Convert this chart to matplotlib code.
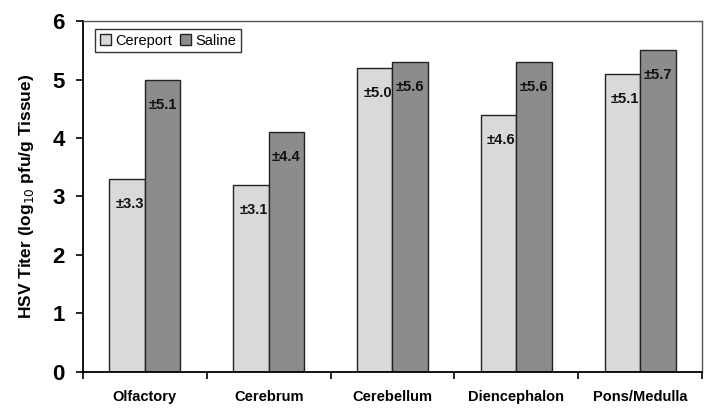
import numpy as np
import matplotlib.pyplot as plt

plt.rcParams['font.family'] = ['Liberation Sans', 'DejaVu Sans']

regions = ['Olfactory', 'Cerebrum', 'Cerebellum', 'Diencephalon', 'Pons/Medulla']
cereport = [3.3, 3.2, 5.2, 4.4, 5.1]
saline = [5.0, 4.1, 5.3, 5.3, 5.5]
cereport_sd = ['±3.3', '±3.1', '±5.0', '±4.6', '±5.1']
saline_sd = ['±5.1', '±4.4', '±5.6', '±5.6', '±5.7']

fig = plt.figure(figsize=(7.18, 4.11), dpi=100)
ax = fig.add_axes([0.1156, 0.0949, 0.8621, 0.854])

x = np.arange(len(regions))
w = 0.287
b1 = ax.bar(x - w / 2, cereport, w, color='#d9d9d9', edgecolor='#222222', linewidth=1.0, label='Cereport')
b2 = ax.bar(x + w / 2, saline, w, color='#8c8c8c', edgecolor='#222222', linewidth=1.0, label='Saline')

for rect, txt in zip(b1, cereport_sd):
    ax.annotate(txt, (rect.get_x() + rect.get_width() / 2, rect.get_height()),
                xytext=(2, -13), textcoords='offset points', ha='center', va='top',
                fontsize=10.5, fontweight='bold', color='#111111')
for rect, txt in zip(b2, saline_sd):
    ax.annotate(txt, (rect.get_x() + rect.get_width() / 2, rect.get_height()),
                xytext=(0, -13), textcoords='offset points', ha='center', va='top',
                fontsize=10.5, fontweight='bold', color='#111111')

ax.set_xlim(-0.5, len(regions) - 0.5)
ax.set_ylim(0, 6)
ax.set_yticks(range(0, 7))
ax.tick_params(axis='y', labelsize=16, direction='out', length=5, width=1.2, pad=8)
for t in ax.get_yticklabels():
    t.set_fontweight('bold')

ax.set_xticks(x)
ax.set_xticklabels(regions, fontsize=10.5, fontweight='bold')
ax.tick_params(axis='x', length=0, pad=13)
ax.set_xticks(np.arange(-0.5, len(regions)), minor=True)
ax.tick_params(axis='x', which='minor', direction='out', length=5, width=1.2)

ax.set_ylabel('HSV Titer (log$_{10}$ pfu/g Tissue)', fontsize=12.5, fontweight='bold', labelpad=12)

for s in ['left', 'bottom']:
    ax.spines[s].set_linewidth(1.3)
    ax.spines[s].set_color('black')
for s in ['top', 'right']:
    ax.spines[s].set_linewidth(1.0)
    ax.spines[s].set_color('#555555')

leg = ax.legend(loc='upper left', bbox_to_anchor=(0.015, 0.985), ncol=2, fontsize=10.5,
                frameon=True, fancybox=False, handlelength=0.8, handleheight=0.8,
                handletextpad=0.3, columnspacing=0.5, borderpad=0.3, borderaxespad=0.2)
leg.get_frame().set_edgecolor('black')
leg.get_frame().set_linewidth(1.0)

fig.savefig('out.png', dpi=100)
